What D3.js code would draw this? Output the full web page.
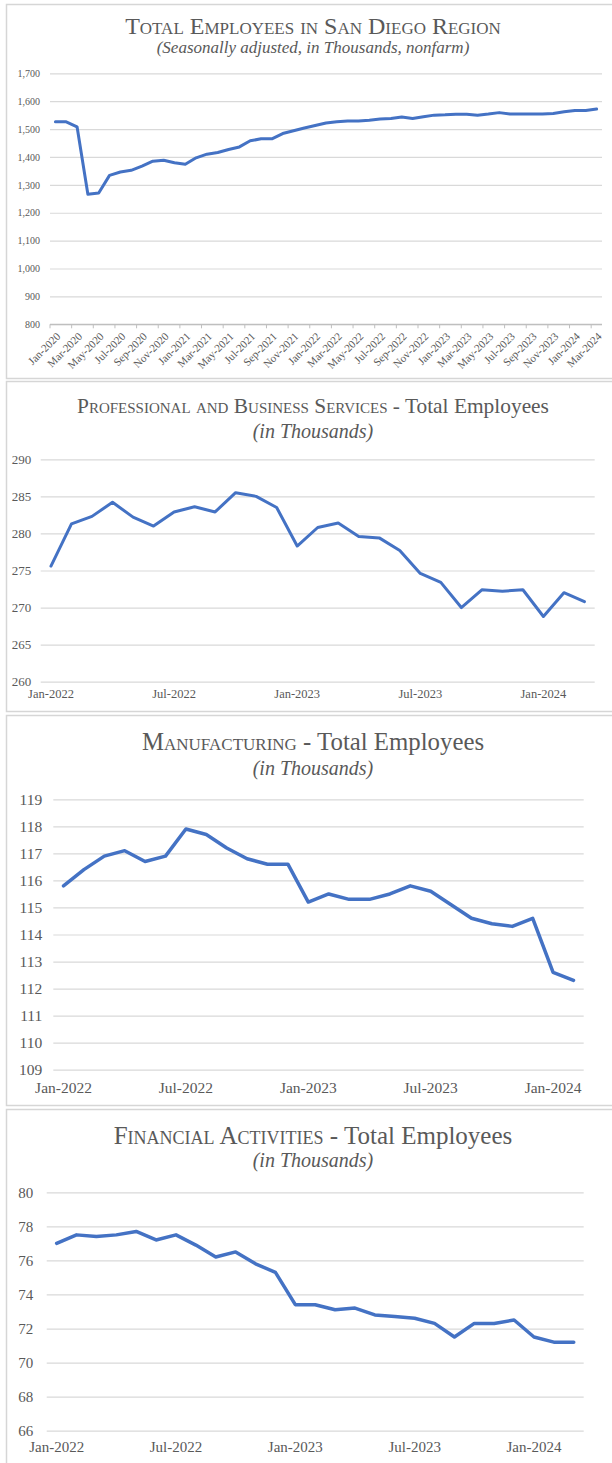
<!DOCTYPE html>
<html>
<head>
<meta charset="utf-8">
<script src="https://cdn.jsdelivr.net/npm/d3@7"></script>
<style>
  html, body { margin: 0; padding: 0; background: #fff; }
  svg { display: block; font-family: "Liberation Serif", "Times New Roman", serif; }
</style>
</head>
<body>
<svg id="chart" width="612" height="1463"></svg>
<script>
// ---------------- DATA ----------------
const totalMonths = [
  "Jan-2020","Feb-2020","Mar-2020","Apr-2020","May-2020","Jun-2020","Jul-2020","Aug-2020","Sep-2020","Oct-2020","Nov-2020","Dec-2020",
  "Jan-2021","Feb-2021","Mar-2021","Apr-2021","May-2021","Jun-2021","Jul-2021","Aug-2021","Sep-2021","Oct-2021","Nov-2021","Dec-2021",
  "Jan-2022","Feb-2022","Mar-2022","Apr-2022","May-2022","Jun-2022","Jul-2022","Aug-2022","Sep-2022","Oct-2022","Nov-2022","Dec-2022",
  "Jan-2023","Feb-2023","Mar-2023","Apr-2023","May-2023","Jun-2023","Jul-2023","Aug-2023","Sep-2023","Oct-2023","Nov-2023","Dec-2023",
  "Jan-2024","Feb-2024","Mar-2024"
];
const totalValues = [
  1526,1526,1508,1266,1271,1334,1346,1352,1367,1385,1388,1379,
  1374,1397,1410,1416,1427,1436,1458,1465,1465,1484,1494,1504,
  1513,1522,1526,1529,1529,1532,1536,1538,1543,1538,1544,1550,
  1551,1553,1553,1550,1554,1559,1554,1554,1554,1554,1556,1562,
  1567,1567,1572
];
const totalYTicks = [800,900,1000,1100,1200,1300,1400,1500,1600,1700];
const totalXLabels = totalMonths.filter((m, i) => i % 2 === 0);

const sectorMonths = [
  "Jan-2022","Feb-2022","Mar-2022","Apr-2022","May-2022","Jun-2022","Jul-2022","Aug-2022","Sep-2022","Oct-2022","Nov-2022","Dec-2022",
  "Jan-2023","Feb-2023","Mar-2023","Apr-2023","May-2023","Jun-2023","Jul-2023","Aug-2023","Sep-2023","Oct-2023","Nov-2023","Dec-2023",
  "Jan-2024","Feb-2024","Mar-2024"
];
const sectorXLabels = ["Jan-2022","Jul-2022","Jan-2023","Jul-2023","Jan-2024"];

const profValues = [
  275.6,281.3,282.3,284.2,282.2,281.0,282.9,283.6,282.9,285.5,285.0,283.5,
  278.3,280.8,281.4,279.6,279.4,277.7,274.6,273.4,270.0,272.4,272.2,272.4,
  268.8,272.0,270.8
];
const profYTicks = [260,265,270,275,280,285,290];

const mfgMonths = sectorMonths.slice(0, 26);
const mfgValues = [
  115.8,116.4,116.9,117.1,116.7,116.9,117.9,117.7,117.2,116.8,116.6,116.6,
  115.2,115.5,115.3,115.3,115.5,115.8,115.6,115.1,114.6,114.4,114.3,114.6,
  112.6,112.3
];
const mfgYTicks = [109,110,111,112,113,114,115,116,117,118,119];

const finValues = [
  77.0,77.5,77.4,77.5,77.7,77.2,77.5,76.9,76.2,76.5,75.8,75.3,
  73.4,73.4,73.1,73.2,72.8,72.7,72.6,72.3,71.5,72.3,72.3,72.5,
  71.5,71.2,71.2
];
const finYTicks = [66,68,70,72,74,76,78,80];

// ---------------- STYLE ----------------
const LINE = "#4472C4";
const GRID = "#d9d9d9";
const TEXT = "#595959";
const BORDER = "#d6d6d6";

const svg = d3.select("#chart");
svg.append("rect").attr("width", 612).attr("height", 1463).attr("fill", "#fff");

function drawPanel(cfg) {
  const g = svg.append("g");
  g.append("rect")
    .attr("x", cfg.box[0]).attr("y", cfg.box[1])
    .attr("width", cfg.box[2]).attr("height", cfg.box[3])
    .attr("fill", "none").attr("stroke", BORDER).attr("stroke-width", 1.5);

  const t = g.append("text")
    .attr("x", 313).attr("y", cfg.titleY)
    .attr("text-anchor", "middle")
    .attr("fill", TEXT)
    .style("font-size", cfg.titleSize + "px");
  t.append("tspan").style("font-variant", "small-caps").text(cfg.titleSC);
  if (cfg.titleRest) t.append("tspan").text(cfg.titleRest);

  g.append("text")
    .attr("x", 313).attr("y", cfg.subY)
    .attr("text-anchor", "middle")
    .attr("fill", TEXT)
    .style("font-style", "italic")
    .style("font-size", cfg.subSize + "px")
    .text(cfg.subtitle);

  const x = d3.scaleBand().domain(cfg.months).range([cfg.x0, cfg.x1]).padding(0);
  const y = d3.scaleLinear().domain([cfg.yTicks[0], cfg.yTicks[cfg.yTicks.length - 1]]).range([cfg.yBottom, cfg.yTop]);

  const ya = g.append("g")
    .attr("transform", `translate(${cfg.x0},0)`)
    .call(d3.axisLeft(y).tickValues(cfg.yTicks).tickSize(-(cfg.x1 - cfg.x0)).tickPadding(cfg.yPad).tickFormat(cfg.yFmt));
  ya.select(".domain").remove();
  ya.selectAll(".tick line").attr("stroke", GRID).attr("stroke-width", 1.2);
  ya.selectAll(".tick text").attr("fill", TEXT)
    .style("font-size", cfg.yFont + "px").style("font-family", '"Liberation Serif", "Times New Roman", serif');

  const xa = g.append("g")
    .attr("transform", `translate(0,${cfg.yBottom})`)
    .call(d3.axisBottom(x).tickValues(cfg.xLabels).tickSize(0).tickPadding(cfg.xPad));
  xa.select(".domain").remove();
  xa.selectAll(".tick text").attr("fill", TEXT)
    .style("font-size", cfg.xFont + "px").style("font-family", '"Liberation Serif", "Times New Roman", serif');

  if (cfg.rotate) {
    xa.selectAll(".tick text")
      .attr("x", 0).attr("y", 0).attr("dy", "0.35em")
      .attr("text-anchor", "end")
      .attr("transform", "translate(3,10) rotate(-45)");
    g.append("line")
      .attr("x1", cfg.x0).attr("x2", cfg.x1)
      .attr("y1", cfg.yBottom).attr("y2", cfg.yBottom)
      .attr("stroke", "#bfbfbf").attr("stroke-width", 1.2);
    const tickCats = cfg.months.filter((m, i) => i % 2 === 0);
    g.selectAll(".xtick").data(tickCats).enter().append("line")
      .attr("x1", d => x(d)).attr("x2", d => x(d))
      .attr("y1", cfg.yBottom).attr("y2", cfg.yBottom + 4)
      .attr("stroke", "#bfbfbf").attr("stroke-width", 1);
  }

  const line = d3.line()
    .x((d, i) => x(cfg.months[i]) + x.bandwidth() / 2)
    .y(d => y(d));
  g.append("path")
    .datum(cfg.values)
    .attr("d", line)
    .attr("fill", "none")
    .attr("stroke", LINE)
    .attr("stroke-width", cfg.lineW)
    .attr("stroke-linejoin", "round")
    .attr("stroke-linecap", "round");
}

drawPanel({
  box: [6.5, 4.5, 640, 374],
  titleSC: "Total Employees in San Diego Region", titleRest: "",
  titleY: 34, titleSize: 24,
  subtitle: "(Seasonally adjusted, in Thousands, nonfarm)", subY: 53, subSize: 17,
  months: totalMonths, values: totalValues, yTicks: totalYTicks, xLabels: totalXLabels,
  x0: 50, x1: 602, yTop: 73.3, yBottom: 324.3,
  yPad: 10, yFont: 10, yFmt: d3.format(","),
  xPad: 0, xFont: 11, rotate: true, lineW: 3
});

drawPanel({
  box: [6.5, 381.5, 640, 330],
  titleSC: "Professional and Business Services", titleRest: " - Total Employees",
  titleY: 413, titleSize: 21.4,
  subtitle: "(in Thousands)", subY: 438, subSize: 20,
  months: sectorMonths, values: profValues, yTicks: profYTicks, xLabels: sectorXLabels,
  x0: 40.7, x1: 594.7, yTop: 459.3, yBottom: 681.7,
  yPad: 9.5, yFont: 13, yFmt: d3.format("d"),
  xPad: 7.4, xFont: 12.5, rotate: false, lineW: 3
});

drawPanel({
  box: [6.5, 715.5, 640, 390],
  titleSC: "Manufacturing", titleRest: " - Total Employees",
  titleY: 750, titleSize: 24.8,
  subtitle: "(in Thousands)", subY: 775, subSize: 20,
  months: mfgMonths, values: mfgValues, yTicks: mfgYTicks, xLabels: sectorXLabels,
  x0: 53.3, x1: 583.7, yTop: 799.3, yBottom: 1069.7,
  yPad: 11, yFont: 15.5, yFmt: d3.format("d"),
  xPad: 12.3, xFont: 15.5, rotate: false, lineW: 3.5
});

drawPanel({
  box: [6.5, 1109.5, 640, 380],
  titleSC: "Financial Activities", titleRest: " - Total Employees",
  titleY: 1144, titleSize: 25,
  subtitle: "(in Thousands)", subY: 1167, subSize: 20,
  months: sectorMonths, values: finValues, yTicks: finYTicks, xLabels: sectorXLabels,
  x0: 46.7, x1: 583.7, yTop: 1192.3, yBottom: 1430.7,
  yPad: 13.5, yFont: 15, yFmt: d3.format("d"),
  xPad: 10.6, xFont: 15, rotate: false, lineW: 3.5
});
</script>
</body>
</html>
